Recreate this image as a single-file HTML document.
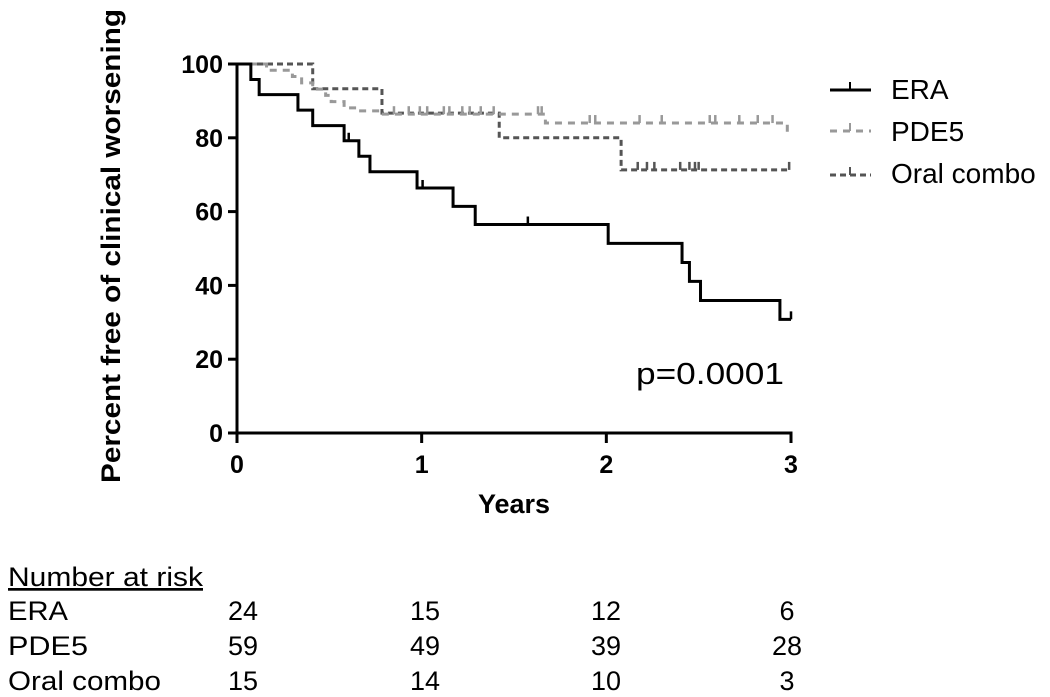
<!DOCTYPE html>
<html><head><meta charset="utf-8"><style>
html,body{margin:0;padding:0;background:#fff;}
svg{display:block;font-family:"Liberation Sans",Arial,sans-serif;}
</style></head><body>
<svg id="chart" width="1050" height="697" viewBox="0 0 1050 697" xmlns="http://www.w3.org/2000/svg">
<g id="plot"></g>
<text transform="translate(120,246) rotate(-90)" text-anchor="middle" font-weight="bold" font-size="27" textLength="474" lengthAdjust="spacingAndGlyphs">Percent free of clinical worsening</text>
<text x="514" y="513" text-anchor="middle" font-weight="bold" font-size="27">Years</text>
<text x="636" y="384" font-size="31" textLength="148" lengthAdjust="spacingAndGlyphs">p=0.0001</text>
<g>
<g><line x1="830" y1="90" x2="871" y2="90" stroke="#000" stroke-width="3"/><line x1="850" y1="90" x2="850" y2="82" stroke="#000" stroke-width="2"/><text x="891" y="99" font-size="28">ERA</text></g>
<g><line x1="830" y1="131" x2="871" y2="131" stroke="#999" stroke-width="3" stroke-dasharray="7 6"/><line x1="850" y1="131" x2="850" y2="123" stroke="#999" stroke-width="2"/><text x="891" y="141" font-size="28">PDE5</text></g>
<g><line x1="830" y1="175" x2="871" y2="175" stroke="#555" stroke-width="3" stroke-dasharray="6 4"/><line x1="850" y1="175" x2="850" y2="167" stroke="#555" stroke-width="2"/><text x="891" y="183" font-size="28">Oral combo</text></g>
</g>
<g id="risk" font-size="27">
<text x="8" y="586" text-decoration="underline" textLength="195" lengthAdjust="spacingAndGlyphs">Number at risk</text>
</g>
</svg>
<script>
const xTicks=[0,1,2,3];
const yTicks=[0,20,40,60,80,100];
const eraTimes=[0,0.075,0.12,0.33,0.41,0.58,0.66,0.72,0.975,1.17,1.29,2.01,2.41,2.45,2.51,2.94,3.0];
const eraVals=[100,95.8,91.7,87.5,83.3,79.2,75,70.8,66.4,61.4,56.5,51.4,46.2,41.1,35.9,30.8,30.8];
const eraCens=[0.605,1.005,1.575,3.0];
const pdeTimes=[0,0.16,0.30,0.35,0.41,0.48,0.51,0.58,0.65,0.77,1.67,2.98,3.0];
const pdeVals=[100,98.3,96.6,94.9,93.2,91.5,89.8,88.1,87.3,86.4,84.0,81.6,81.6];
const pdeCens=[0.85,0.93,0.99,1.03,1.12,1.15,1.22,1.26,1.32,1.39,1.63,1.65,1.91,1.94,2.18,2.30,2.56,2.59,2.72,2.82,2.90];
const oralTimes=[0,0.41,0.785,1.42,2.08,3.0];
const oralVals=[100,93.3,86.7,80,71.3,71.3];
const oralCens=[2.17,2.22,2.26,2.40,2.45,2.48,2.50,2.99];
const riskGroups=["ERA","PDE5","Oral combo"];
const riskEra=[24,15,12,6];
const riskPde=[59,49,39,28];
const riskOral=[15,14,10,3];

const NS="http://www.w3.org/2000/svg";
const X0=237,X1=791,Y0=433,Y1=64;
const xs=t=>X0+(X1-X0)*t/3;
const ys=v=>Y0-(Y0-Y1)*v/100;
const plot=document.getElementById('plot');
function mk(tag,attrs,parent){const e=document.createElementNS(NS,tag);for(const k in attrs)e.setAttribute(k,attrs[k]);(parent||plot).appendChild(e);return e;}

const ya=mk('line',{x1:X0,y1:Y1,x2:X0,y2:Y0+1.5,stroke:'#000','stroke-width':3});


const xa=mk('line',{x1:X0-1.5,y1:Y0,x2:X1+1.5,y2:Y0,stroke:'#000','stroke-width':3});


yTicks.forEach(v=>{
  const tk=mk('line',{x1:X0-9,y1:ys(v),x2:X0,y2:ys(v),stroke:'#000','stroke-width':3});
  
  
  const tl=mk('text',{x:X0-14,y:ys(v)+9,'text-anchor':'end','font-weight':'bold','font-size':25});
  tl.textContent=v;
  
  
});
xTicks.forEach(t=>{
  const tk=mk('line',{x1:xs(t),y1:Y0,x2:xs(t),y2:Y0+10,stroke:'#000','stroke-width':3});
  
  
  const tl=mk('text',{x:xs(t),y:Y0+40,'text-anchor':'middle','font-weight':'bold','font-size':25});
  tl.textContent=t;
  
  
});

function stepPath(times,vals){
  let d='M'+xs(times[0])+','+ys(vals[0]);
  for(let i=1;i<times.length;i++){d+=' H'+xs(times[i])+' V'+ys(vals[i]);}
  return d;
}
function valAt(times,vals,t){let v=vals[0];for(let i=0;i<times.length;i++){if(times[i]<=t)v=vals[i];}return v;}
function series(name,times,vals,cens,color,dash){
  const g=mk('g',{});
  
  
  const p=mk('path',{d:stepPath(times,vals),fill:'none',stroke:color,'stroke-width':3,'stroke-dasharray':dash},g);
  
  
  cens.forEach(t=>{
    const v=valAt(times,vals,t);
    const c=mk('line',{x1:xs(t),y1:ys(v),x2:xs(t),y2:ys(v)-8,stroke:color,'stroke-width':2.5},g);
    
    
  });
}
series('oral-combo',oralTimes,oralVals,oralCens,'#555','6 4');
series('pde5',pdeTimes,pdeVals,pdeCens,'#999','7 6');
series('era',eraTimes,eraVals,eraCens,'#000','none');

const risk=document.getElementById('risk');
const colX=[243,425,606,787];
const rowY=[620,655,690];
const rowW=[60,80,153];
[riskEra,riskPde,riskOral].forEach((row,r)=>{
  const lab=mk('text',{x:8,y:rowY[r],textLength:rowW[r],lengthAdjust:'spacingAndGlyphs'},risk);
  lab.textContent=riskGroups[r];
  
  
  row.forEach((n,i)=>{
    const t=mk('text',{x:colX[i],y:rowY[r],'text-anchor':'middle'},risk);
    t.textContent=n;
    
    
  });
});
</script>
</body></html>
